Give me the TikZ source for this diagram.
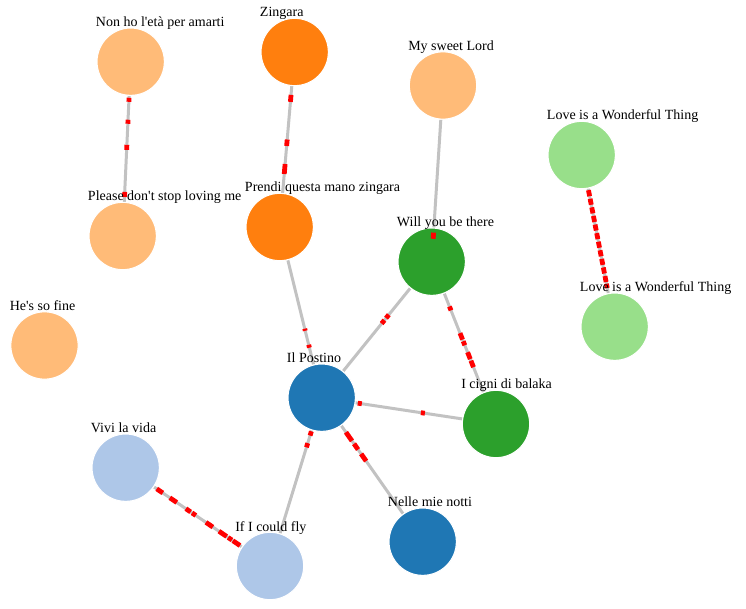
\documentclass[tikz,border=0pt]{standalone}
\usepackage{fontspec}
\setmainfont{Liberation Serif}
\usepackage{tikz}
\usetikzlibrary{calc,backgrounds}

\definecolor{lorange}{HTML}{FFBB78}
\definecolor{dorange}{HTML}{FF7F0E}
\definecolor{dgreen}{HTML}{2CA02C}
\definecolor{lgreen}{HTML}{98DF8A}
\definecolor{dblue}{HTML}{1F77B4}
\definecolor{lblue}{HTML}{AEC7E8}
\definecolor{linkgrey}{HTML}{C2C2C2}

\tikzset{
  song/.style={circle,minimum size=50.5pt,inner sep=0pt,draw=white,line width=0.8pt},
  title/.style={anchor=base west,inner sep=0pt,font=\fontsize{10.5}{12}\selectfont},
  link/.style={draw=linkgrey,line width=2.25pt},
  hit/.style={draw=red,line width=3.6pt}
}
% red pieces along a link, given as from/to fractions
\newcommand{\hits}[3]{\foreach \s/\e in {#3} \draw[hit] ($(#1)!\s!(#2)$) -- ($(#1)!\e!(#2)$);}

\begin{document}
\begin{tikzpicture}[x=0.75pt,y=-0.75pt]
\useasboundingbox (0,0) rectangle (746,609);

% songs
\node[song,fill=lorange] (nonho) at (130.7,61.7) {};
\node[song,fill=dorange] (zingara) at (294.7,52) {};
\node[song,fill=lorange] (lord) at (443,85.5) {};
\node[song,fill=lgreen] (loveA) at (581.7,155) {};
\node[song,fill=lorange] (please) at (122.7,236) {};
\node[song,fill=dorange] (prendi) at (279.7,227) {};
\node[song,fill=dgreen] (will) at (431.7,261.7) {};
\node[song,fill=lgreen] (loveB) at (614.7,326.7) {};
\node[song,fill=lorange] (fine) at (44.5,345.5) {};
\node[song,fill=dblue] (postino) at (321.7,397.7) {};
\node[song,fill=dgreen] (cigni) at (496,424) {};
\node[song,fill=lblue] (vivi) at (125.7,467.7) {};
\node[song,fill=lblue] (fly) at (270,566) {};
\node[song,fill=dblue] (notti) at (422.7,541.7) {};

% links
\begin{scope}[on background layer]
\draw[link] (nonho) -- (please);
\draw[link] (zingara) -- (prendi);
\draw[link] (lord) -- (will);
\draw[link] (loveA) -- (loveB);
\draw[link] (prendi) -- (postino);
\draw[link] (will) -- (postino);
\draw[link] (will) -- (cigni);
\draw[link] (postino) -- (cigni);
\draw[link] (postino) -- (fly);
\draw[link] (postino) -- (notti);
\draw[link] (vivi) -- (fly);
\end{scope}

\hits{nonho}{please}{0.207/0.230,0.333/0.356,0.477/0.506,0.747/0.776}
\hits{zingara}{prendi}{0.245/0.285,0.50/0.537,0.64/0.697}
\hits{lord}{will}{0.835/0.87}
\hits{loveA}{loveB}{0.205/0.24,0.255/0.29,0.305/0.34,0.355/0.39,0.405/0.44,0.455/0.49,0.505/0.54,0.555/0.59,0.605/0.64,0.655/0.69,0.705/0.74,0.75/0.775}
\hits{prendi}{postino}{0.596/0.608,0.69/0.707}
\hits{will}{postino}{0.39/0.415,0.43/0.455}
\hits{will}{cigni}{0.276/0.30,0.44/0.48,0.49/0.515,0.558/0.60,0.61/0.65}
\hits{postino}{cigni}{0.207/0.23,0.569/0.592}
\hits{postino}{fly}{0.20/0.225,0.27/0.295}
\hits{postino}{notti}{0.24/0.30,0.32/0.36,0.39/0.44}
\hits{vivi}{fly}{0.215/0.257,0.306/0.354,0.417/0.45,0.46/0.486,0.556/0.604,0.646/0.70,0.71/0.736,0.743/0.792}

% titles
\node[title] (tnonho) at ([shift={(-35,-35)}]nonho.center) {Non ho l\textquotesingle età per amarti};
\node[title] (tzingara) at ([shift={(-35,-35)}]zingara.center) {Zingara};
\node[title] (tlord) at ([shift={(-35,-35)}]lord.center) {My sweet Lord};
\node[title] (tloveA) at ([shift={(-35,-35)}]loveA.center) {Love is a Wonderful Thing};
\node[title] (tplease) at ([shift={(-35,-35)}]please.center) {Please don\textquotesingle t stop loving me};
\node[title] (tprendi) at ([shift={(-35,-35)}]prendi.center) {Prendi questa mano zingara};
\node[title] (twill) at ([shift={(-35,-35)}]will.center) {Will you be there};
\node[title] (tloveB) at ([shift={(-35,-35)}]loveB.center) {Love is a Wonderful Thing};
\node[title] (tfine) at ([shift={(-35,-35)}]fine.center) {He\textquotesingle s so fine};
\node[title] (tpostino) at ([shift={(-35,-35)}]postino.center) {Il Postino};
\node[title] (tcigni) at ([shift={(-35,-35)}]cigni.center) {I cigni di balaka};
\node[title] (tvivi) at ([shift={(-35,-35)}]vivi.center) {Vivi la vida};
\node[title] (tfly) at ([shift={(-35,-35)}]fly.center) {If I could fly};
\node[title] (tnotti) at ([shift={(-35,-35)}]notti.center) {Nelle mie notti};
\end{tikzpicture}
\end{document}
